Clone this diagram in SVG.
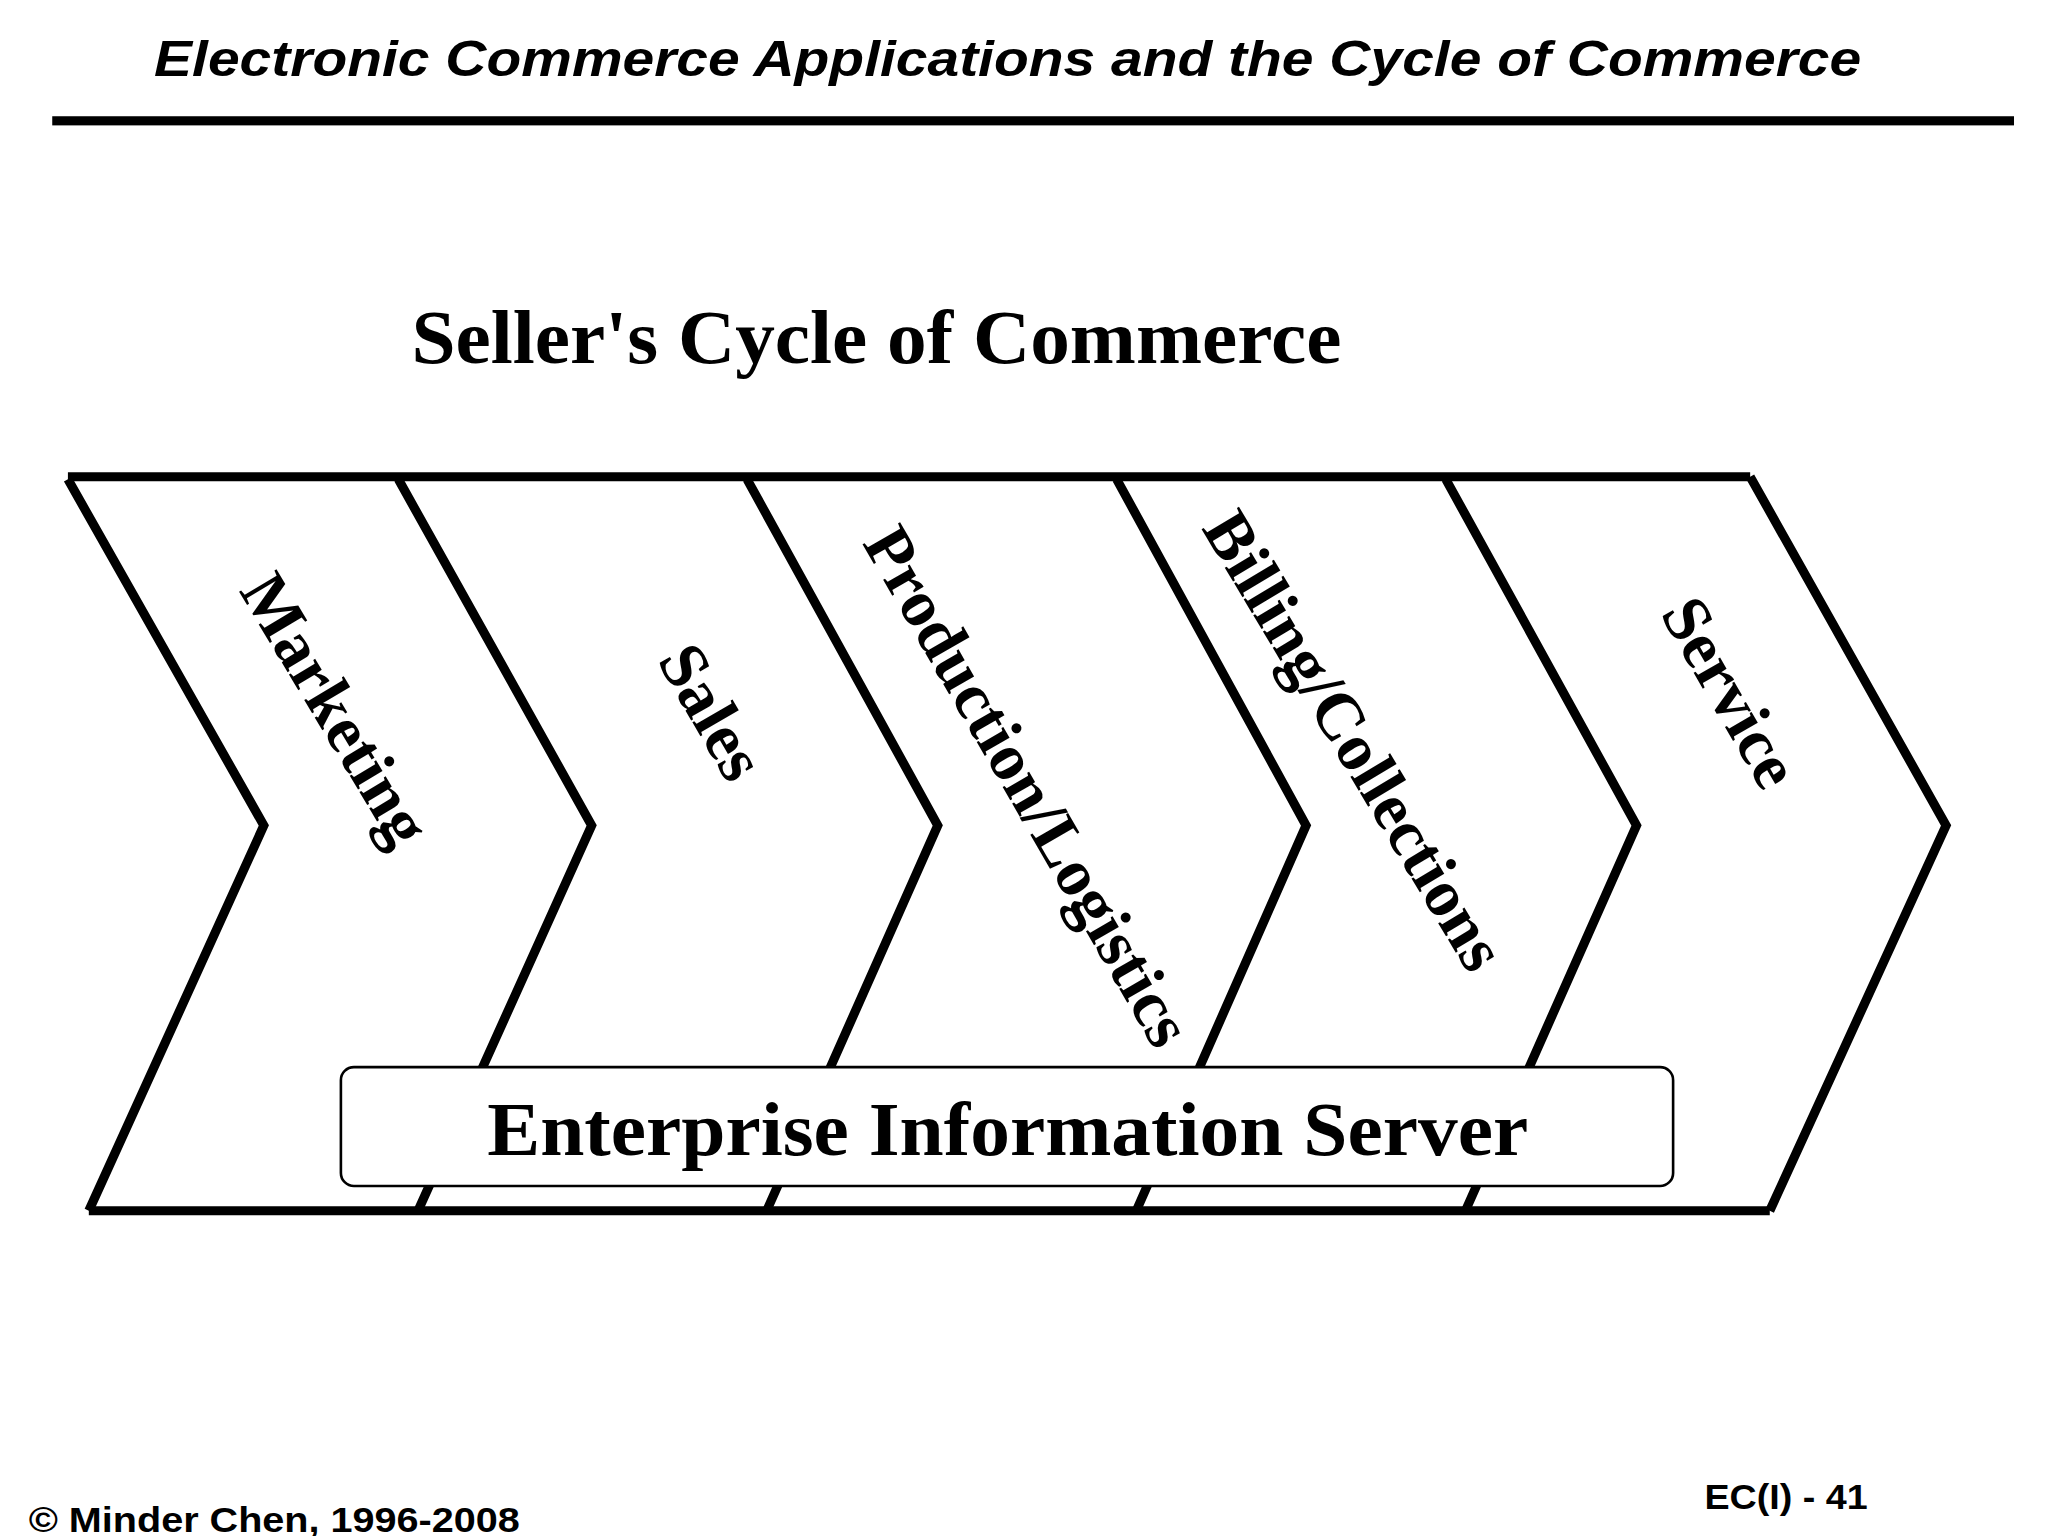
<svg xmlns="http://www.w3.org/2000/svg" width="2048" height="1536" viewBox="0 0 2048 1536">
<style>
.ch{fill:none;stroke:#000;stroke-width:7;stroke-linejoin:miter}
.lb{font-family:"Liberation Serif",serif;font-weight:bold;font-size:51px;fill:#000}
.sans{font-family:"Liberation Sans",Arial,sans-serif;font-weight:bold;fill:#000}
</style>
<rect width="2048" height="1536" fill="#fff"/>
<g transform="scale(1.3061)">
<text class="sans" x="118" y="58" font-size="38" font-style="italic" textLength="1307" lengthAdjust="spacingAndGlyphs">Electronic Commerce Applications and the Cycle of Commerce</text>
<rect x="40" y="89" width="1502" height="7" fill="#000"/>
<text x="315" y="278" font-family="Liberation Serif,serif" font-weight="bold" font-size="58" textLength="712" lengthAdjust="spacingAndGlyphs">Seller's Cycle of Commerce</text>
<g id="connectors">
<polyline class="ch" points="52,365 1340,365"/>
<polyline class="ch" points="68,927 1355,927"/>
</g>
<g id="marketing"><polyline class="ch" points="52,367 202,632 68,927"/><text class="lb" transform="translate(257,543) rotate(59)" text-anchor="middle" dy="17">Marketing</text></g>
<g id="sales"><polyline class="ch" points="305,367 453,632 320,927"/><text class="lb" transform="translate(545,545) rotate(60)" text-anchor="middle" dy="17">Sales</text></g>
<g id="production"><polyline class="ch" points="572,367 718,632 587,927"/><text class="lb" transform="translate(787,602) rotate(60)" text-anchor="middle" dy="17">Production/Logistics</text></g>
<g id="billing"><polyline class="ch" points="855,367 1000,632 870,927"/><text class="lb" transform="translate(1037,567) rotate(59)" text-anchor="middle" dy="17">Billing/Collections</text></g>
<g id="service"><polyline class="ch" points="1107,367 1253,632 1122,927"/><polyline class="ch" points="1340,365 1490,632 1355,927"/><text class="lb" transform="translate(1325,530) rotate(60)" text-anchor="middle" dy="17">Service</text></g>
<g id="eis"><rect x="261" y="817" width="1020" height="91" rx="10" fill="#fff" stroke="#000" stroke-width="2"/><text x="373" y="884" font-family="Liberation Serif,serif" font-weight="bold" font-size="58" textLength="797" lengthAdjust="spacingAndGlyphs">Enterprise Information Server</text></g>
<text class="sans" x="22" y="1173" font-size="27" textLength="376" lengthAdjust="spacingAndGlyphs">© Minder Chen, 1996-2008</text>
<text class="sans" x="1305" y="1155" font-size="27" textLength="125" lengthAdjust="spacingAndGlyphs">EC(I) - 41</text>
</g>
</svg>
